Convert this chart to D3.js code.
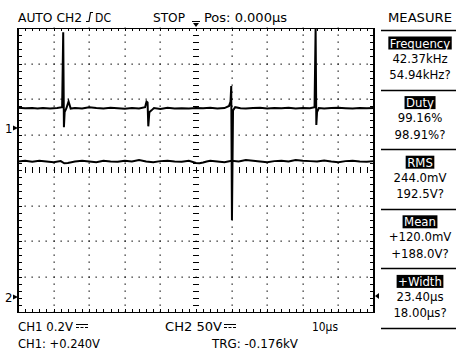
<!DOCTYPE html>
<html>
<head>
<meta charset="utf-8">
<script src="https://cdn.jsdelivr.net/npm/d3@7"></script>
<style>
  body { margin: 0; background: #fff; }
  text { font-family: "Liberation Sans Narrow", "DejaVu Sans Condensed", "Arial Narrow", sans-serif; font-size: 13px; fill: #000; }
</style>
</head>
<body>
<svg width="457" height="351"></svg>
<script>
// CH1 samples (time in us, volts)
const ch1Time = [-50,-48,-46,-44.5,-43,-41,-39,-37.6,-37.3,-37.1,-36.9,-36.4,-35.8,-35.2,-34,-32,-30,-28,-26,-24,-22,-20,-18,-16,-14.3,-13.9,-13.6,-13.4,-13.1,-12.5,-11.8,-10,-8,-6,-4,-2,0,2,4,6,8,9.3,9.7,9.9,10.1,10.4,11,12.5,14,16,18,20,22,24,26,28,30,32,33.3,33.6,33.8,34,34.5,36,38,40,42,44,46,48,50]
const ch1Volt = [0.115,0.112,0.113,0.110,0.113,0.111,0.113,0.118,0.540,0.005,0.090,0.112,0.150,0.110,0.113,0.110,0.117,0.113,0.111,0.114,0.112,0.109,0.113,0.111,0.118,0.150,0.145,0.010,0.090,0.100,0.113,0.108,0.114,0.111,0.112,0.110,0.113,0.112,0.115,0.111,0.113,0.125,0.150,0.237,-0.518,0.100,0.118,0.112,0.110,0.113,0.115,0.111,0.113,0.112,0.114,0.110,0.113,0.112,0.118,0.564,0.018,0.090,0.113,0.111,0.113,0.114,0.112,0.110,0.113,0.112,0.113]
// CH2 samples (time in us, volts)
const ch2Time = [-50,-48,-46,-44,-42,-40,-38,-37,-36,-34,-32,-30,-28,-26,-24,-22,-20,-18,-16,-14,-12,-10,-8,-6,-4,-2,0,1,2,3,4,6,8,10,12,14,16,18,20,22,24,26,28,30,32,34,36,38,40,42,44,46,48,50]
const ch2Volt = [191,192,190.5,192,191,190,191.5,188.5,189,191,192,191,190,192,191,190.5,192,191,193,191,190,191.5,192,191,190.5,192,189,188.5,189.5,191,192,191,190,192,191,193,192,191,190,191.5,192,191,193,192,191.5,191,192.5,191,190,191.5,192,191,190.5,191.5]

const measureLabels = ['Frequency', 'Duty', 'RMS', 'Mean', '+Width']
const measureCh1 = ['42.37kHz', '99.16%', '244.0mV', '+120.0mV', '23.40\u00b5s']
const measureCh2 = ['54.94kHz?', '98.91%?', '192.5V?', '+188.0V?', '18.00\u00b5s?']

const svg = d3.select('svg')
const plotL = 18, plotR = 374, plotT = 28, plotB = 312

const x = d3.scaleLinear().domain([-50, 50]).range([plotL, plotR])
const xDiv = d3.scaleLinear().domain([-5, 5]).range([plotL, plotR])
const yDiv = d3.scaleLinear().domain([-4, 4]).range([plotB, plotT])
// CH1 0.2V/div, ground marker 1.18 div above centre
const y1 = d3.scaleLinear().domain([(-4 - 1.18) * 0.2, (4 - 1.18) * 0.2]).range([plotB, plotT])
// CH2 50V/div, ground marker 3.58 div below centre
const y2 = d3.scaleLinear().domain([(-4 + 3.58) * 50, (4 + 3.58) * 50]).range([plotB, plotT])
const trigLevelDiv = -3.55

const minorX = d3.range(-5, 5.001, 0.2)
const minorY = d3.range(-4, 4.001, 0.2)
const grid = svg.append('g').attr('fill', '#222')

// dotted graticule
for (const j of [-3, -2, -1, 1, 2, 3]) {
  grid.selectAll(null).data(minorX).enter().append('rect')
    .attr('x', d => Math.round(xDiv(d)) - 0.5).attr('y', Math.round(yDiv(j)) - 0.5)
    .attr('width', 1.3).attr('height', 1.3)
}
for (const i of [-4, -3, -2, -1, 1, 2, 3, 4]) {
  grid.selectAll(null).data(minorY).enter().append('rect')
    .attr('x', Math.round(xDiv(i)) - 0.5).attr('y', d => Math.round(yDiv(d)) - 0.5)
    .attr('width', 1.3).attr('height', 1.3)
}

const ticks = svg.append('g').attr('stroke', '#000').attr('stroke-width', 1)
// centre cross ticks
ticks.selectAll(null).data(minorX).enter().append('line')
  .attr('x1', d => Math.round(xDiv(d)) + 0.5).attr('x2', d => Math.round(xDiv(d)) + 0.5)
  .attr('y1', yDiv(0) - 3).attr('y2', yDiv(0) + 3)
ticks.selectAll(null).data(minorY).enter().append('line')
  .attr('x1', xDiv(0) - 3).attr('x2', xDiv(0) + 3)
  .attr('y1', d => Math.round(yDiv(d)) + 0.5).attr('y2', d => Math.round(yDiv(d)) + 0.5)
// border ticks
ticks.selectAll(null).data(minorX).enter().append('line')
  .attr('x1', d => Math.round(xDiv(d)) + 0.5).attr('x2', d => Math.round(xDiv(d)) + 0.5)
  .attr('y1', plotT).attr('y2', plotT + 3)
ticks.selectAll(null).data(minorX).enter().append('line')
  .attr('x1', d => Math.round(xDiv(d)) + 0.5).attr('x2', d => Math.round(xDiv(d)) + 0.5)
  .attr('y1', plotB).attr('y2', plotB - 3)
ticks.selectAll(null).data(minorY).enter().append('line')
  .attr('x1', plotL).attr('x2', plotL + 4)
  .attr('y1', d => Math.round(yDiv(d)) + 0.5).attr('y2', d => Math.round(yDiv(d)) + 0.5)
ticks.selectAll(null).data(minorY).enter().append('line')
  .attr('x1', plotR).attr('x2', plotR - 4)
  .attr('y1', d => Math.round(yDiv(d)) + 0.5).attr('y2', d => Math.round(yDiv(d)) + 0.5)

// frame
svg.append('line').attr('x1', plotL).attr('x2', plotR).attr('y1', plotT + 0.5).attr('y2', plotT + 0.5).attr('stroke', '#000')
svg.append('line').attr('x1', plotL).attr('x2', plotR).attr('y1', plotB + 0.5).attr('y2', plotB + 0.5).attr('stroke', '#000')
svg.append('line').attr('x1', plotL).attr('x2', plotL).attr('y1', plotT).attr('y2', plotB + 1).attr('stroke', '#000').attr('stroke-width', 2)
svg.append('line').attr('x1', plotR).attr('x2', plotR).attr('y1', plotT).attr('y2', plotB + 1).attr('stroke', '#000').attr('stroke-width', 2)

// traces
const plot = svg.append('g')
plot.append('path')
  .datum(d3.zip(ch2Time, ch2Volt))
  .attr('fill', 'none').attr('stroke', '#000').attr('stroke-width', 2)
  .attr('d', d3.line().x(d => x(d[0])).y(d => y2(d[1])))
plot.append('path')
  .datum(d3.zip(ch1Time, ch1Volt))
  .attr('fill', 'none').attr('stroke', '#000').attr('stroke-width', 2)
  .attr('d', d3.line().x(d => x(d[0])).y(d => y1(d[1])))

// channel ground markers
svg.append('text').attr('x', 5).attr('y', y1(0) + 5).text('1')
svg.append('path').attr('d', `M13,${y1(0) - 2.5}L18,${y1(0)}L13,${y1(0) + 2.5}Z`)
svg.append('text').attr('x', 5).attr('y', y2(0) + 5).text('2')
svg.append('path').attr('d', `M13,${y2(0) - 2.5}L18,${y2(0)}L13,${y2(0) + 2.5}Z`)
// trigger level marker (right) and trigger position (top)
const trgY = yDiv(trigLevelDiv)
svg.append('path').attr('d', `M375,${trgY}L379,${trgY - 3}L379,${trgY + 3}Z`)
svg.append('line').attr('x1', xDiv(0) - 4).attr('x2', xDiv(0) + 4).attr('y1', 21.5).attr('y2', 21.5).attr('stroke', '#000')
svg.append('path').attr('d', `M${xDiv(0) - 3},23L${xDiv(0) + 3},23L${xDiv(0)},27Z`)

// header
svg.append('text').attr('x', 18).attr('y', 22).attr('textLength', 64).attr('lengthAdjust', 'spacingAndGlyphs').text('AUTO CH2')
svg.append('path').attr('d', 'M86,21.5L89,21.5L90.5,12.5L93,12.5').attr('fill', 'none').attr('stroke', '#000').attr('stroke-width', 1.2)
svg.append('text').attr('x', 95).attr('y', 22).attr('textLength', 16).attr('lengthAdjust', 'spacingAndGlyphs').text('DC')
svg.append('text').attr('x', 153).attr('y', 22).attr('textLength', 32).attr('lengthAdjust', 'spacingAndGlyphs').text('STOP')
svg.append('text').attr('x', 204).attr('y', 22).attr('textLength', 83).attr('lengthAdjust', 'spacingAndGlyphs').text('Pos: 0.000\u00b5s')
svg.append('text').attr('x', 420).attr('y', 22).attr('text-anchor', 'middle').attr('textLength', 64).attr('lengthAdjust', 'spacingAndGlyphs').text('MEASURE')

// measure panel
const panel = svg.append('g')
const secY = d3.scaleLinear().domain([0, 1]).range([30, 89.6])
panel.selectAll(null).data(d3.range(6)).enter().append('line')
  .attr('x1', 381).attr('x2', 456)
  .attr('y1', d => Math.round(secY(d)) + 0.5).attr('y2', d => Math.round(secY(d)) + 0.5)
  .attr('stroke', '#000').attr('stroke-width', 1.3)
measureLabels.forEach((lab, i) => {
  const base = secY(i)
  const t = panel.append('text').attr('x', 420).attr('y', base + 17.5).attr('text-anchor', 'middle')
    .style('fill', '#fff').text(lab)
  const bb = t.node().getBBox()
  panel.insert('rect', () => t.node())
    .attr('x', bb.x - 1.5).attr('y', base + 6.5).attr('width', bb.width + 3).attr('height', 13)
    .attr('fill', '#000')
  panel.append('text').attr('x', 420).attr('y', base + 32.5).attr('text-anchor', 'middle').text(measureCh1[i])
  panel.append('text').attr('x', 420).attr('y', base + 49).attr('text-anchor', 'middle').text(measureCh2[i])
})

// footer
function dcSymbol(x0, yy) {
  svg.append('line').attr('x1', x0).attr('x2', x0 + 12).attr('y1', yy).attr('y2', yy).attr('stroke', '#000')
  svg.append('line').attr('x1', x0).attr('x2', x0 + 12).attr('y1', yy + 3).attr('y2', yy + 3)
    .attr('stroke', '#000').attr('stroke-dasharray', '3,1.5')
}
svg.append('text').attr('x', 18).attr('y', 331).attr('textLength', 55).attr('lengthAdjust', 'spacingAndGlyphs').text('CH1  0.2V')
dcSymbol(76, 324.5)
svg.append('text').attr('x', 18).attr('y', 348).attr('textLength', 82).attr('lengthAdjust', 'spacingAndGlyphs').text('CH1: +0.240V')
svg.append('text').attr('x', 165).attr('y', 331).attr('textLength', 57).attr('lengthAdjust', 'spacingAndGlyphs').text('CH2  50V')
dcSymbol(224, 324.5)
svg.append('text').attr('x', 312).attr('y', 331).attr('textLength', 26).attr('lengthAdjust', 'spacingAndGlyphs').text('10\u00b5s')
svg.append('text').attr('x', 212).attr('y', 348).attr('textLength', 86).attr('lengthAdjust', 'spacingAndGlyphs').text('TRG: -0.176kV')
</script>
</body>
</html>
